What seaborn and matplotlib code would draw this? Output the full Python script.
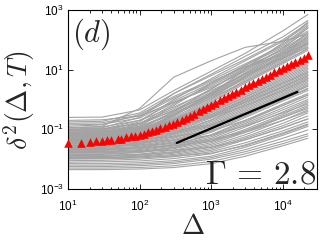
import numpy as np
import pandas as pd
import matplotlib
matplotlib.use("Agg")
import matplotlib.pyplot as plt
import seaborn as sns
from matplotlib.ticker import FixedLocator, LogFormatterSciNotation, LogLocator, NullLocator

# ---------------- data ----------------
# lag times at which the gray single-trajectory curves are read
gray_delta = [10, 30, 100, 300, 1000, 3000, 10000, 22400]
# log10 of the time-averaged MSD of each trajectory, read at gray_delta
gray_log10 = [
    [-0.60, -0.59, -0.35, 0.30, 0.95, 1.55, 2.30, 2.85],
    [-0.95, -0.90, -0.30, 0.75, 1.30, 1.75, 1.95, 2.20],
    [-1.00, -0.95, -0.60, 0.20, 0.85, 1.45, 2.10, 2.65],
    [-1.10, -1.05, -0.75, 0.00, 0.70, 1.30, 1.95, 2.50],
    [-0.90, -0.85, -0.50, 0.10, 0.65, 1.20, 1.80, 2.40],
    [-1.20, -1.15, -0.90, -0.20, 0.55, 1.15, 1.75, 2.30],
    [-1.05, -1.00, -0.70, -0.10, 0.45, 1.05, 1.70, 2.20],
    [-1.30, -1.25, -1.00, -0.40, 0.35, 1.00, 1.60, 2.10],
    [-0.80, -0.78, -0.55, 0.05, 0.60, 1.10, 1.50, 1.90],
    [-1.15, -1.10, -0.85, -0.35, 0.25, 0.90, 1.55, 2.00],
    [-1.35, -1.30, -1.10, -0.55, 0.15, 0.80, 1.45, 1.95],
    [-1.25, -1.20, -0.95, -0.45, 0.10, 0.70, 1.35, 1.85],
    [-0.95, -0.92, -0.70, -0.25, 0.30, 0.85, 1.40, 1.75],
    [-1.40, -1.35, -1.15, -0.65, 0.00, 0.65, 1.30, 1.80],
    [-1.10, -1.08, -0.90, -0.50, 0.05, 0.60, 1.25, 1.70],
    [-1.45, -1.40, -1.20, -0.75, -0.10, 0.55, 1.20, 1.65],
    [-0.70, -0.68, -0.55, -0.10, 0.40, 0.95, 1.60, 2.05],
    [-1.20, -1.18, -1.00, -0.55, 0.20, 1.00, 1.70, 2.40],
    [-1.30, -1.28, -1.05, -0.60, 0.05, 0.75, 1.50, 2.10],
    [-1.00, -0.98, -0.80, -0.30, 0.35, 1.05, 1.90, 2.60],
    [-0.85, -0.83, -0.62, -0.05, 0.55, 1.15, 1.85, 2.45],
    [-1.15, -1.12, -0.82, -0.15, 0.50, 1.10, 1.65, 2.15],
    [-1.38, -1.33, -1.08, -0.50, 0.20, 0.85, 1.50, 2.00],
    [-1.05, -1.03, -0.80, -0.38, 0.18, 0.78, 1.42, 1.90],
    [-1.28, -1.24, -1.02, -0.52, 0.12, 0.75, 1.38, 1.88],
    [-0.75, -0.73, -0.45, 0.20, 0.80, 1.35, 2.00, 2.55],
    [-1.18, -1.15, -0.92, -0.42, 0.22, 0.88, 1.58, 2.25],
    [-1.42, -1.38, -1.17, -0.70, -0.05, 0.60, 1.25, 1.72],
    [-2.35, -2.35, -2.33, -2.28, -2.15, -1.90, -1.55, -1.30],
    [-2.25, -2.25, -2.22, -2.15, -2.00, -1.75, -1.40, -1.15],
    [-2.15, -2.15, -2.12, -2.05, -1.90, -1.60, -1.20, -0.90],
    [-2.05, -2.04, -2.00, -1.92, -1.75, -1.45, -1.05, -0.75],
    [-1.95, -1.94, -1.90, -1.80, -1.60, -1.25, -0.80, -0.45],
    [-1.90, -1.89, -1.85, -1.75, -1.50, -1.10, -0.60, -0.25],
    [-1.85, -1.84, -1.78, -1.65, -1.40, -1.00, -0.50, -0.10],
    [-1.80, -1.79, -1.74, -1.60, -1.30, -0.85, -0.35, 0.00],
    [-1.75, -1.74, -1.68, -1.52, -1.20, -0.75, -0.20, 0.15],
    [-1.70, -1.69, -1.62, -1.45, -1.10, -0.60, -0.05, 0.30],
    [-1.65, -1.64, -1.57, -1.38, -1.00, -0.50, 0.05, 0.45],
    [-1.60, -1.59, -1.50, -1.30, -0.90, -0.40, 0.15, 0.55],
    [-1.55, -1.54, -1.46, -1.22, -0.80, -0.30, 0.25, 0.65],
    [-1.50, -1.49, -1.40, -1.15, -0.70, -0.20, 0.35, 0.75],
    [-1.45, -1.44, -1.34, -1.08, -0.62, -0.10, 0.45, 0.85],
    [-1.40, -1.39, -1.28, -1.00, -0.55, -0.02, 0.55, 0.95],
    [-1.35, -1.34, -1.22, -0.92, -0.45, 0.08, 0.65, 1.05],
    [-1.30, -1.29, -1.16, -0.85, -0.38, 0.15, 0.75, 1.15],
    [-1.25, -1.24, -1.10, -0.78, -0.30, 0.25, 0.85, 1.25],
    [-1.20, -1.19, -1.05, -0.72, -0.22, 0.32, 0.92, 1.35],
    [-1.15, -1.14, -1.00, -0.65, -0.15, 0.40, 1.00, 1.40],
    [-1.10, -1.09, -0.95, -0.90, -0.60, -0.20, 0.30, 0.70],
    [-1.00, -0.99, -0.92, -0.80, -0.50, 0.00, 0.55, 0.90],
    [-2.00, -1.99, -1.96, -1.88, -1.70, -1.35, -0.95, -0.65],
    [-1.88, -1.87, -1.83, -1.70, -1.45, -1.05, -0.55, -0.20],
    [-1.72, -1.71, -1.65, -1.50, -1.18, -0.70, -0.15, 0.20],
    [-1.62, -1.61, -1.53, -1.35, -0.95, -0.45, 0.10, 0.50],
    [-1.48, -1.47, -1.38, -1.12, -0.68, -0.15, 0.40, 0.80],
    [-1.32, -1.31, -1.20, -0.90, -0.42, 0.10, 0.70, 1.10],
    [-1.18, -1.17, -1.03, -0.70, -0.20, 0.35, 0.95, 1.38],
    [-2.30, -2.30, -2.28, -2.22, -2.08, -1.82, -1.48, -1.22],
    [-2.20, -2.20, -2.17, -2.10, -1.95, -1.68, -1.30, -1.02],
    [-2.10, -2.09, -2.06, -1.98, -1.82, -1.52, -1.12, -0.82],
    [-1.98, -1.97, -1.93, -1.84, -1.65, -1.30, -0.88, -0.55],
    [-1.92, -1.91, -1.87, -1.77, -1.55, -1.18, -0.70, -0.35],
    [-1.83, -1.82, -1.76, -1.62, -1.35, -0.92, -0.42, -0.05],
    [-1.78, -1.77, -1.71, -1.56, -1.25, -0.80, -0.28, 0.08],
    [-1.68, -1.67, -1.60, -1.42, -1.05, -0.55, 0.00, 0.38],
    [-1.58, -1.57, -1.48, -1.26, -0.85, -0.35, 0.20, 0.60],
    [-1.52, -1.51, -1.43, -1.18, -0.75, -0.25, 0.30, 0.70],
    [-1.42, -1.41, -1.31, -1.04, -0.58, -0.06, 0.50, 0.90],
    [-1.38, -1.37, -1.25, -0.96, -0.50, 0.03, 0.60, 1.00],
    [-1.28, -1.27, -1.13, -0.82, -0.34, 0.20, 0.80, 1.20],
    [-1.22, -1.21, -1.08, -0.75, -0.26, 0.28, 0.88, 1.30],
    [-1.12, -1.11, -0.98, -0.68, -0.18, 0.38, 0.98, 1.42],
    [-1.05, -1.04, -0.96, -0.84, -0.55, -0.10, 0.42, 0.80],
    [-1.95, -1.95, -1.93, -1.90, -1.80, -1.55, -1.15, -0.85],
    [-1.75, -1.75, -1.73, -1.70, -1.60, -1.35, -0.95, -0.65],
    [-1.55, -1.55, -1.53, -1.48, -1.35, -1.05, -0.60, -0.30],
    [-1.35, -1.35, -1.32, -1.25, -1.05, -0.70, -0.20, 0.15],
    [-1.15, -1.15, -1.12, -1.05, -0.85, -0.45, 0.10, 0.45],
    [-1.65, -1.65, -1.62, -1.55, -1.40, -1.10, -0.70, -0.40],
    [-1.45, -1.45, -1.42, -1.36, -1.20, -0.88, -0.45, -0.15],
    [-1.25, -1.25, -1.21, -1.12, -0.90, -0.50, 0.00, 0.35],
]

# ensemble mean (red triangles)
mean_delta = [10, 15, 20, 25, 30, 35, 40, 50, 55, 65, 75, 85, 100, 115, 130, 150,
              170, 195, 225, 255, 290, 335, 385, 440, 505, 580, 665, 760, 870,
              1000, 1145, 1310, 1500, 1720, 1970, 2250, 2580, 2950, 3380, 3870,
              4430, 5070, 5800, 6640, 7600, 8700, 9960, 11400, 13050, 14940,
              17100, 19580, 22400]
mean_msd = [0.034, 0.036, 0.038, 0.040, 0.041, 0.043, 0.045, 0.048, 0.049, 0.054,
            0.058, 0.062, 0.066, 0.072, 0.079, 0.089, 0.098, 0.107, 0.123, 0.138,
            0.155, 0.178, 0.204, 0.24, 0.279, 0.33, 0.40, 0.47, 0.556, 0.66,
            0.785, 0.93, 1.10, 1.32, 1.55, 1.82, 2.16, 2.57, 3.02, 3.59, 4.22,
            5.0, 5.82, 6.84, 8.04, 9.44, 11.2, 13.2, 15.5, 18.2, 21.4, 25.4, 30.2]

# slope guide line (black)
guide_delta = [330, 16000]
guide_msd = [0.035, 1.8]

gamma_text = r"$\Gamma\,=\,2.8$"
panel_text = r"$(d)$"

# ---------------- figure ----------------
sns.set_style("ticks")
plt.rcParams["font.family"] = ["Liberation Sans", "DejaVu Sans"]
plt.rcParams["mathtext.fontset"] = "cm"

rows = []
for i, curve in enumerate(gray_log10):
    for d, v in zip(gray_delta, curve):
        rows.append({"traj": i, "Delta": d, "msd": 10 ** v})
gray_df = pd.DataFrame(rows)
mean_df = pd.DataFrame({"Delta": mean_delta, "msd": mean_msd})
guide_df = pd.DataFrame({"Delta": guide_delta, "msd": guide_msd})

fig = plt.figure(figsize=(3.2, 2.42), dpi=100)
ax = fig.add_axes([68 / 320, 1 - 189 / 242, (317 - 68) / 320, (189 - 10) / 242])

sns.lineplot(data=gray_df, x="Delta", y="msd", units="traj", estimator=None,
             color="#a3a3a3", linewidth=0.8, ax=ax, legend=False)
sns.lineplot(data=guide_df, x="Delta", y="msd", color="black", linewidth=1.6,
             ax=ax, legend=False)
sns.scatterplot(data=mean_df, x="Delta", y="msd", marker="^", color="red",
                edgecolor="red", s=38, linewidth=0, ax=ax, legend=False,
                clip_on=False, zorder=5)

ax.set_xscale("log")
ax.set_yscale("log")
ax.set_xlim(10, 3e4)
ax.set_ylim(1e-3, 1e3)

ax.xaxis.set_major_locator(FixedLocator([1e1, 1e2, 1e3, 1e4]))
ax.xaxis.set_minor_locator(LogLocator(base=10, subs=np.arange(2, 10), numticks=20))
ax.yaxis.set_major_locator(FixedLocator([1e-3, 1e-1, 1e1, 1e3]))
ax.yaxis.set_minor_locator(NullLocator())
ax.xaxis.set_major_formatter(LogFormatterSciNotation())
ax.yaxis.set_major_formatter(LogFormatterSciNotation())

ax.tick_params(which="both", direction="in", top=True, right=True, width=0.6,
               labelsize=8.5, colors="black")
ax.tick_params(which="major", length=3.5)
ax.tick_params(which="minor", length=1.8)
ax.tick_params(axis="x", pad=7)
ax.tick_params(axis="y", pad=3)
for sp in ax.spines.values():
    sp.set_linewidth(0.8)
    sp.set_color("black")

ax.set_xlabel(r"$\Delta$", fontsize=20, labelpad=0)
ax.set_ylabel(r"$\delta^2(\Delta,T)$", fontsize=20, labelpad=2)

ax.text(0.998, 0.03, gamma_text, transform=ax.transAxes, ha="right",
        va="baseline", fontsize=24)
ax.text(0.015, 0.965, panel_text, transform=ax.transAxes, ha="left",
        va="top", fontsize=22)

fig.savefig("out.png", dpi=100)
